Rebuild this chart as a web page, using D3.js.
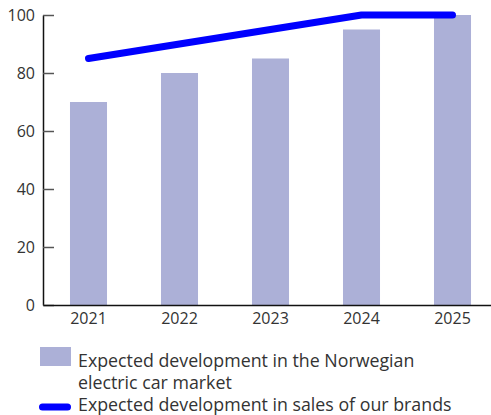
<!DOCTYPE html>
<html>
<head>
<meta charset="utf-8">
<script src="https://cdn.jsdelivr.net/npm/d3@7"></script>
<style>
  html, body { margin: 0; padding: 0; background: #fff; }
  svg text { font-family: "Open Sans", Lato, sans-serif; fill: #333; }
</style>
</head>
<body>
<svg id="chart" width="491" height="415"></svg>
<script>
// Years on the x axis
const years = ["2021", "2022", "2023", "2024", "2025"];
// Norwegian electric car market (bars)
const marketValues = [70, 80, 85, 95, 100];
// Sales of our brands (line)
const brandValues = [85, 90, 95, 100, 100];
// Y axis ticks
const yTicks = [0, 20, 40, 60, 80, 100];
// Legend labels
const legendBar = ["Expected development in the Norwegian", "electric car market"];
const legendLine = "Expected development in sales of our brands";

const barColor = "#acb0d7";
const lineColor = "#0000ff";
const fontFamily = "'Open Sans', Lato, sans-serif";
const axisFontSize = 16;
const legendFontSize = 17.8;

const svg = d3.select("#chart");
const plotLeft = 43, plotBottom = 305, plotTop = 15;

const x = d3.scaleBand().domain(years).range([plotLeft, 498]).paddingInner(0.593).paddingOuter(0.2965);
const y = d3.scaleLinear().domain([0, 100]).range([plotBottom, plotTop]);

// Bars
svg.append("g").selectAll("rect")
  .data(years.map((yr, i) => ({ yr, v: marketValues[i] })))
  .join("rect")
  .attr("x", d => x(d.yr))
  .attr("width", x.bandwidth())
  .attr("y", d => y(d.v))
  .attr("height", d => y(0) - y(d.v))
  .attr("fill", barColor);

// Y axis: labels on the left, tick marks pointing into the plot
const yAxis = svg.append("g")
  .attr("transform", `translate(${plotLeft},0)`)
  .call(d3.axisLeft(y).tickValues(yTicks).tickSize(0).tickPadding(8));
yAxis.select(".domain").attr("stroke", "#111").attr("stroke-width", 1.5);
yAxis.selectAll(".tick line").remove();
yAxis.selectAll(".tick").append("line")
  .attr("x1", 0).attr("x2", 11)
  .attr("stroke", "#555").attr("stroke-width", 1.5);
yAxis.selectAll("text").attr("font-size", axisFontSize).attr("fill", "#333")
  .style("font-family", fontFamily);

// X axis
const xAxis = svg.append("g")
  .attr("transform", `translate(0,${plotBottom})`)
  .call(d3.axisBottom(x).tickSize(0).tickPadding(8));
xAxis.select(".domain").attr("stroke", "#111").attr("stroke-width", 1.5);
xAxis.selectAll("text").attr("font-size", axisFontSize).attr("fill", "#333")
  .style("font-family", fontFamily);

// Line
const line = d3.line()
  .x((d, i) => x(years[i]) + x.bandwidth() / 2)
  .y(d => y(d));
svg.append("path")
  .datum(brandValues)
  .attr("d", line)
  .attr("fill", "none")
  .attr("stroke", lineColor)
  .attr("stroke-width", 7)
  .attr("stroke-linecap", "round")
  .attr("stroke-linejoin", "round");

// Legend
const lg = svg.append("g").style("font-family", fontFamily);
lg.append("rect").attr("x", 40).attr("y", 347).attr("width", 31).attr("height", 19).attr("fill", barColor);
lg.append("text").attr("x", 78).attr("y", 367).attr("font-size", legendFontSize).text(legendBar[0]);
lg.append("text").attr("x", 78).attr("y", 389).attr("font-size", legendFontSize).text(legendBar[1]);
lg.append("line").attr("x1", 42.5).attr("x2", 67.5).attr("y1", 407).attr("y2", 407)
  .attr("stroke", lineColor).attr("stroke-width", 7).attr("stroke-linecap", "round");
lg.append("text").attr("x", 78).attr("y", 410.5).attr("font-size", legendFontSize).text(legendLine);
</script>
</body>
</html>
